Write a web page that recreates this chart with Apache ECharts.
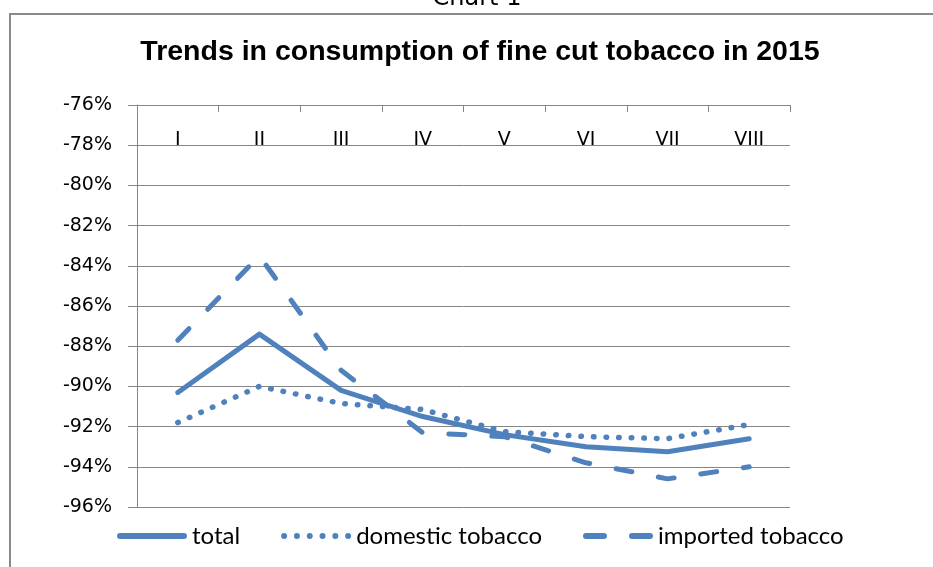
<!DOCTYPE html>
<html>
<head>
<meta charset="utf-8">
<script src="https://cdn.jsdelivr.net/npm/echarts@6/dist/echarts.min.js"></script>
<style>
  html, body { margin: 0; padding: 0; background: #fff; }
  #chart { width: 933px; height: 567px; }
</style>
</head>
<body>
<div id="chart"></div>
<script>
// Monthly change in fine cut tobacco consumption, 2015 (percent)
const months = ['I', 'II', 'III', 'IV', 'V', 'VI', 'VII', 'VIII'];
const total = [-90.3, -87.4, -90.2, -91.5, -92.4, -93.0, -93.25, -92.6];
const domestic = [-91.8, -90.0, -90.85, -91.15, -92.25, -92.5, -92.6, -91.9];
const imported = [-87.7, -83.5, -89.2, -92.3, -92.5, -93.8, -94.6, -94.0];
const yTicks = { min: -96, max: -76, step: 2 };

const BLUE = '#4F81BD';
const GRID = '#868686';

// Legend keys drawn as filled paths: a bar, a row of dots, two dashes
function roundedBar(x0, x1, h) {
  const r = h / 2;
  return 'M' + (x0 + r) + ',0 H' + (x1 - r) +
    ' A' + r + ',' + r + ' 0 0 1 ' + (x1 - r) + ',' + h +
    ' H' + (x0 + r) +
    ' A' + r + ',' + r + ' 0 0 1 ' + (x0 + r) + ',0 Z';
}
function dotRow(count, step, r) {
  let d = '';
  for (let i = 0; i < count; i++) {
    const cx = r + i * step;
    d += 'M' + (cx - r) + ',' + r +
      ' A' + r + ',' + r + ' 0 1 0 ' + (cx + r) + ',' + r +
      ' A' + r + ',' + r + ' 0 1 0 ' + (cx - r) + ',' + r + ' Z ';
  }
  return d;
}
const iconSolid = 'path://' + roundedBar(0, 70, 6);
const iconDotted = 'path://' + dotRow(6, 12.8, 3);
const iconDashed = 'path://' + roundedBar(0, 24, 6) + ' ' + roundedBar(46, 70, 6);

const chart = echarts.init(document.getElementById('chart'));

function lineSeries(name, values, dash, width) {
  return {
    name: name,
    type: 'line',
    data: values,
    symbol: 'none',
    showSymbol: false,
    lineStyle: {
      color: BLUE,
      width: width,
      type: dash,
      cap: 'round',
      join: 'round'
    },
    itemStyle: { color: BLUE },
    emphasis: { disabled: true }
  };
}

chart.setOption({
  animation: false,
  backgroundColor: '#fff',
  graphic: [
    {
      type: 'text',
      x: 477,
      y: -13,
      style: {
        text: 'Chart 1',
        font: '24px "DejaVu Sans"',
        fill: '#000',
        align: 'center'
      }
    },
    {
      type: 'rect',
      shape: { x: 10, y: 14, width: 960, height: 600 },
      style: { fill: 'none', stroke: '#8a8a8a', lineWidth: 2 }
    }
  ],
  title: {
    text: 'Trends in consumption of fine cut tobacco in 2015',
    left: 475,
    top: 33,
    textAlign: 'center',
    textStyle: {
      fontFamily: '"Liberation Sans", Arial, sans-serif',
      fontWeight: 'bold',
      fontSize: 28.5,
      color: '#000'
    }
  },
  legend: {
    bottom: 14,
    left: 112,
    itemWidth: 70,
    itemHeight: 6,
    itemGap: 41,
    textStyle: {
      fontFamily: 'Lato, sans-serif',
      fontSize: 24,
      color: '#000'
    },
    data: [
      { name: 'total', icon: iconSolid },
      { name: 'domestic tobacco', icon: iconDotted },
      { name: 'imported tobacco', icon: iconDashed }
    ]
  },
  grid: { left: 137, right: 143, top: 105, bottom: 60, containLabel: false },
  xAxis: {
    type: 'category',
    position: 'top',
    data: months,
    boundaryGap: true,
    axisLine: { show: true, lineStyle: { color: GRID, width: 1 } },
    axisTick: { show: true, inside: true, length: 7, lineStyle: { color: GRID } },
    axisLabel: {
      inside: true,
      margin: 26,
      fontFamily: '"DejaVu Sans", Verdana, sans-serif',
      fontSize: 19,
      color: '#000'
    },
    splitLine: { show: false }
  },
  yAxis: {
    type: 'value',
    min: yTicks.min,
    max: yTicks.max,
    interval: yTicks.step,
    axisLine: { show: true, lineStyle: { color: GRID, width: 1 } },
    axisTick: { show: true, length: 9, lineStyle: { color: GRID } },
    axisLabel: {
      margin: 25,
      formatter: v => v + '%',
      fontFamily: '"DejaVu Sans", Verdana, sans-serif',
      fontSize: 19,
      color: '#000'
    },
    splitLine: { show: true, lineStyle: { color: GRID, width: 1 } }
  },
  series: [
    lineSeries('total', total, 'solid', 5),
    lineSeries('domestic tobacco', domestic, [0.5, 12.1], 5.5),
    lineSeries('imported tobacco', imported, [16, 27], 5)
  ]
});
</script>
</body>
</html>
